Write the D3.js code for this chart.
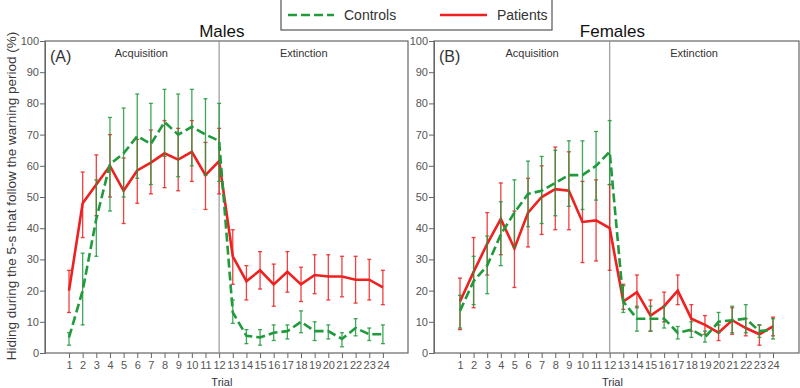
<!DOCTYPE html>
<html><head><meta charset="utf-8">
<script src="https://cdn.jsdelivr.net/npm/d3@7/dist/d3.min.js"></script>
<style>body{margin:0;background:#fff;}svg{display:block;font-family:"Liberation Sans",Arial,sans-serif;}</style>
</head><body><svg id="c" width="800" height="388"></svg>
<script>
const trials = d3.range(1, 25);
const yTicks = [0,10,20,30,40,50,60,70,80,90,100];
const seriesNames = ["Controls", "Patients"];
const panelTitles = ["Males", "Females"];
const panelLetters = ["(A)", "(B)"];
const phaseLabels = ["Acquisition", "Extinction"];

// Males
const mPat   = [20,48,54,60,52,58.5,61,64,62,64.5,57,61.5,31,23,26.5,22,26,22,25,24.5,24.5,23.5,23.5,21];
const mPatLo = [13,37,44,50,41.5,48,51,53,52,55,46,51,22,17,20.5,15,19.5,16.5,19,17,18,16,17,15.5];
const mPatHi = [26.5,58,63.5,70,62.5,68.5,71.5,74.5,72,74.5,67.5,72,39.5,28,32.5,28.5,32.5,27.5,31.5,31.5,31,31,30,26.5];
const mCon   = [5,20,43,60.5,64,69.5,67,74,70,72.5,70,68,13,5.5,5,6.5,7,10,7,7,4.5,8,6,6];
const mConLo = [2.5,9,31,45.5,50,56,54,63,56.5,60,57,55,9.5,3,2.5,4,4.5,6.5,4,4.5,2,5.5,4,3];
const mConHi = [6.5,32,55.5,75.5,78.5,83,80,84.5,83,84.5,81.5,80,17,7.5,7.5,9,9,13.5,10,9,6.5,11,8,9];

// Females
const fPat   = [16.5,26,35,43,33.5,45,50,52.5,52,42,42.5,40,16.5,19.5,12,15,20,11,9,6.5,10.5,8,6,8.5];
const fPatLo = [7.5,14.5,25,31.5,21,34,38,39.5,39.5,29,29.5,26.5,14,14.5,7,10,15.5,7,6,4,6,5.5,2.5,5.5];
const fPatHi = [24,37,45,54.5,45.5,56,60,66,64.5,55,55.5,54,22,25,17,19.5,25,15.5,12,9,14.5,11,9,11.5];
const fCon   = [13.5,23,28,38,45,51,52,54.5,57,57,60,64.5,16.5,11,11,11,6.5,7.5,5,10,10.5,11,7,7.5];
const fConLo = [8,15.5,19,28,34,40.5,41.5,44,47,46,49,54,13,7,7,8,4.5,5,3.5,6.5,6.5,6.5,5,4.5];
const fConHi = [18.5,31,37.5,48.5,55.5,61.5,63,65,68,68,71,74.5,21.5,15,15,15,8.5,10,7,13,15,15.5,9,11];

const GREEN = "#1f9a3c", RED = "#ef2020", AX = "#666";
const svg = d3.select("#c");

const panels = [
  {x0:45, x1:408, dom:[-0.76,25.84], data:{con:[mCon,mConLo,mConHi], pat:[mPat,mPatLo,mPatHi]}},
  {x0:434, x1:799, dom:[-0.91,25.91], data:{con:[fCon,fConLo,fConHi], pat:[fPat,fPatLo,fPatHi]}}
];
const y = d3.scaleLinear().domain([0,100]).range([353,41]);

panels.forEach((p, pi) => {
  const x = d3.scaleLinear().domain(p.dom).range([p.x0, p.x1]);
  const g = svg.append("g");
  g.append("rect").attr("x", p.x0).attr("y", y(100)).attr("width", p.x1-p.x0).attr("height", y(0)-y(100))
    .attr("fill","none").attr("stroke", AX).attr("stroke-width",1.2);
  const ya = g.append("g").attr("transform",`translate(${p.x0},0)`)
    .call(d3.axisLeft(y).tickValues(yTicks).tickSize(5).tickPadding(1));
  ya.select(".domain").attr("stroke", AX);
  ya.selectAll(".tick line").attr("stroke", AX);
  ya.selectAll("text").attr("fill","#555").style("font-size","11px").style("font-family","Liberation Sans, Arial, sans-serif");
  const xa = g.append("g").attr("transform",`translate(0,${y(0)})`)
    .call(d3.axisBottom(x).tickValues(trials).tickSize(5).tickPadding(3).tickFormat(d3.format("d")));
  xa.select(".domain").remove();
  xa.selectAll(".tick line").attr("stroke", AX);
  xa.selectAll("text").attr("fill","#555").style("font-size","11px").style("font-family","Liberation Sans, Arial, sans-serif");
  g.append("line").attr("x1",x(12)).attr("x2",x(12)).attr("y1",y(100)).attr("y2",y(0))
    .attr("stroke","#999").attr("stroke-width",1.2);
  g.append("text").attr("x", p.x0+5).attr("y", 62).text(panelLetters[pi])
    .attr("fill","#333").style("font-size","16px");
  g.append("text").attr("x", x(6.3)).attr("y", 57).attr("text-anchor","middle").text(phaseLabels[0])
    .attr("fill","#333").style("font-size","11px");
  g.append("text").attr("x", x(18.2)).attr("y", 57).attr("text-anchor","middle").text(phaseLabels[1])
    .attr("fill","#333").style("font-size","11px");
  g.append("text").attr("x", x(12.2)).attr("y", 37).attr("text-anchor","middle").text(panelTitles[pi])
    .attr("fill","#111").style("font-size","17px");
  g.append("text").attr("x", x(12.2)).attr("y", 386).attr("text-anchor","middle").text("Trial")
    .attr("fill","#334").style("font-size","11px");

  const drawSeries = (arr, color, dashed) => {
    const [v, lo, hi] = arr;
    const eg = g.append("g");
    trials.forEach((t, i) => {
      const cx = x(t);
      eg.append("line").attr("x1",cx).attr("x2",cx).attr("y1",y(lo[i])).attr("y2",y(hi[i]))
        .attr("stroke",color).attr("stroke-width",1.3).attr("opacity",0.85);
      [lo[i], hi[i]].forEach(e => eg.append("line").attr("x1",cx-2).attr("x2",cx+2).attr("y1",y(e)).attr("y2",y(e))
        .attr("stroke",color).attr("stroke-width",1.3).attr("opacity",0.85));
    });
    g.append("path").datum(v).attr("fill","none").attr("stroke",color).attr("stroke-width",2.6)
      .attr("stroke-dasharray", dashed ? "9,4" : null)
      .attr("d", d3.line().x((d,i)=>x(trials[i])).y(d=>y(d)));
  };
  drawSeries(p.data.pat, RED, false);
  drawSeries(p.data.con, GREEN, true);
});

svg.append("text").attr("transform","translate(16,196) rotate(-90)").attr("text-anchor","middle")
  .text("Hiding during the 5-s that follow the warning period (%)").attr("fill","#3a3a3a").style("font-size","13.5px");

const lg = svg.append("g");
lg.append("rect").attr("x",281).attr("y",-1).attr("width",271).attr("height",31).attr("fill","#fff").attr("stroke","#555").attr("stroke-width",1.2);
lg.append("line").attr("x1",288).attr("x2",334).attr("y1",15).attr("y2",15).attr("stroke",GREEN).attr("stroke-width",2.6).attr("stroke-dasharray","9,4");
lg.append("text").attr("x",344).attr("y",20).text(seriesNames[0]).attr("fill","#333").style("font-size","14px");
lg.append("line").attr("x1",440).attr("x2",487).attr("y1",15).attr("y2",15).attr("stroke",RED).attr("stroke-width",2.6);
lg.append("text").attr("x",497).attr("y",20).text(seriesNames[1]).attr("fill","#333").style("font-size","14px");
</script></body></html>
